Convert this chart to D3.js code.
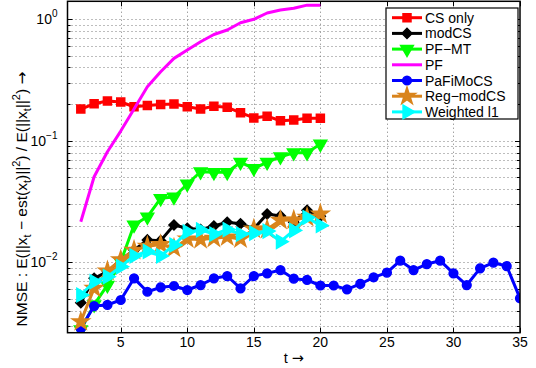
<!DOCTYPE html>
<html>
<head>
<meta charset="utf-8">
<script src="https://cdn.jsdelivr.net/npm/d3@7"></script>
<style>
  body { margin: 0; background: #fff; }
  text { font-family: "Liberation Sans", Arial, sans-serif; }
  .arrow { font-family: "DejaVu Sans", sans-serif; }
</style>
</head>
<body>
<div id="chart"></div>
<script>
// values (NMSE per time step)
const tShort = d3.range(2, 21);   // t = 2..20
const tLong = d3.range(2, 36);    // t = 2..35

const csOnly = [0.182, 0.201, 0.212, 0.208, 0.190, 0.195, 0.198, 0.200, 0.190, 0.182,
  0.192, 0.188, 0.170, 0.154, 0.159, 0.146, 0.148, 0.153, 0.153];
const modCS = [0.00467, 0.0074, 0.0084, 0.0105, 0.0126, 0.0153, 0.0151, 0.0203, 0.0191, 0.0186,
  0.0199, 0.0214, 0.0208, 0.0189, 0.0250, 0.0241, 0.0214, 0.0268, 0.0239];
const pfmt = [0.0028, 0.0045, 0.0065, 0.0101, 0.0203, 0.0237, 0.0336, 0.0345, 0.0441, 0.0556,
  0.0550, 0.0550, 0.0665, 0.0593, 0.0665, 0.0739, 0.0797, 0.0797, 0.0939];
const pf = [0.0216, 0.0506, 0.0812, 0.120, 0.182, 0.278, 0.369, 0.475, 0.556, 0.651,
  0.746, 0.812, 0.932, 0.994, 1.12, 1.186, 1.224, 1.30, 1.30];
const pafimocs = [0.00287, 0.00438, 0.00447, 0.00491, 0.0074, 0.00574, 0.00624, 0.0064, 0.00593,
  0.00652, 0.0074, 0.00773, 0.00613, 0.00773, 0.00813, 0.00866, 0.00735, 0.00717, 0.00646,
  0.00646, 0.00601, 0.00665, 0.00754, 0.00823, 0.01033, 0.00866, 0.0097, 0.01033, 0.00813,
  0.00652, 0.00894, 0.00994, 0.00934, 0.00507];
const regModCS = [0.00326, 0.00613, 0.0085, 0.0105, 0.0126, 0.0136, 0.0140, 0.0131, 0.0156, 0.0154,
  0.0158, 0.0162, 0.0156, 0.0188, 0.0187, 0.0222, 0.0223, 0.0235, 0.0250];
const weightedL1 = [0.0054, 0.00694, 0.00763, 0.00922, 0.0113, 0.0123, 0.0113, 0.0139, 0.0178, 0.0185,
  0.0171, 0.0186, 0.0171, 0.0174, 0.0181, 0.0148, 0.0183, 0.0234, 0.0201];

const names = ["CS only", "modCS", "PF\u2212MT", "PF", "PaFiMoCS", "Reg\u2212modCS", "Weighted l1"];
const colors = ["#ff0000", "#000000", "#00ff00", "#ff00ff", "#0000ff", "#d9841c", "#00ffff"];

const xTicks = [5, 10, 15, 20, 25, 30, 35];
const yTicks = [1e-2, 1e-1, 1];

const series = [
  {t: tShort, v: csOnly, marker: "square"},
  {t: tShort, v: modCS, marker: "diamond"},
  {t: tShort, v: pfmt, marker: "down"},
  {t: tShort, v: pf, marker: null},
  {t: tLong, v: pafimocs, marker: "circle"},
  {t: tShort, v: regModCS, marker: "star"},
  {t: tShort, v: weightedL1, marker: "right"}
];
series.forEach((s, i) => { s.name = names[i]; s.color = colors[i]; });

const width = 536, height = 368;
const margin = {left: 67.5, right: 16, top: 1.3, bottom: 35.3};

const svg = d3.select("#chart").append("svg")
  .attr("width", width)
  .attr("height", height);

const x = d3.scaleLinear().domain([1, 35]).range([margin.left, width - margin.right]);
const y = d3.scaleLog().domain([0.002645, 1.398]).range([height - margin.bottom, margin.top]);

const x0 = x.range()[0], x1 = x.range()[1];
const y0 = y.range()[0], y1 = y.range()[1];

// grid
const minorY = [];
[0.001, 0.01, 0.1, 1].forEach(d => {
  for (let k = 1; k < 10; k++) {
    const v = d * k;
    if (v >= y.domain()[0] && v <= y.domain()[1]) minorY.push(v);
  }
});

const grid = svg.append("g")
  .attr("stroke", "#7a7a7a")
  .attr("stroke-width", 1)
  .attr("stroke-dasharray", "1,3");

grid.selectAll(".gy").data(minorY).enter().append("line")
  .attr("x1", x0).attr("x2", x1)
  .attr("y1", d => Math.round(y(d)) + 0.5)
  .attr("y2", d => Math.round(y(d)) + 0.5);

grid.selectAll(".gx").data(xTicks.filter(d => d < 35)).enter().append("line")
  .attr("y1", y0).attr("y2", y1)
  .attr("x1", d => Math.round(x(d)) + 0.5)
  .attr("x2", d => Math.round(x(d)) + 0.5);

// ticks inside the box on all four sides
const ticks = svg.append("g").attr("stroke", "#000").attr("stroke-width", 1);
xTicks.forEach(d => {
  const px = Math.round(x(d)) + 0.5;
  ticks.append("line").attr("x1", px).attr("x2", px).attr("y1", y0).attr("y2", y0 - 5);
  ticks.append("line").attr("x1", px).attr("x2", px).attr("y1", y1).attr("y2", y1 + 5);
});
minorY.forEach(d => {
  const py = Math.round(y(d)) + 0.5;
  const len = yTicks.includes(d) ? 5 : 3;
  ticks.append("line").attr("x1", x0).attr("x2", x0 + len).attr("y1", py).attr("y2", py);
  ticks.append("line").attr("x1", x1).attr("x2", x1 - len).attr("y1", py).attr("y2", py);
});

// tick labels
svg.append("g").selectAll("text").data(xTicks).enter().append("text")
  .attr("x", d => x(d))
  .attr("y", y0 + 14)
  .attr("text-anchor", "middle")
  .attr("font-size", 14)
  .text(d => d);

const yl = svg.append("g").selectAll("text").data(yTicks).enter().append("text")
  .attr("x", x0 - 10)
  .attr("y", d => y(d) + 5)
  .attr("text-anchor", "end")
  .attr("font-size", 14);
yl.append("tspan").text("10");
yl.append("tspan").attr("dy", -7).attr("font-size", 10)
  .text(d => { const e = Math.round(Math.log10(d)); return e < 0 ? "\u2212" + (-e) : e; });

// axis titles
const xt = svg.append("text")
  .attr("x", (x0 + x1) / 2)
  .attr("y", height - 5)
  .attr("text-anchor", "middle")
  .attr("font-size", 14.5);
xt.append("tspan").text("t ");
xt.append("tspan").attr("class", "arrow").text("\u2192");

const yt = svg.append("text")
  .attr("transform", `translate(27,199) rotate(-90)`)
  .attr("text-anchor", "middle")
  .attr("font-size", 15.5);
const parts = [
  ["NMSE : E(||x", 0], ["t", 1], [" \u2212 est(x", 0], ["t", 1], [")||", 0], ["2", -1],
  [") / E(||x", 0], ["t", 1], ["||", 0], ["2", -1], [") ", 0], ["\u2192", 2]
];
let shift = 0;
parts.forEach(([s, k]) => {
  const target = k === 1 ? 4 : (k === -1 ? -7 : 0);
  const ts = yt.append("tspan").attr("dy", target - shift)
    .attr("font-size", (k === 0 || k === 2) ? 15.5 : 11).text(s);
  if (k === 2) ts.attr("class", "arrow");
  shift = target;
});

// data
svg.append("defs").append("clipPath").attr("id", "clip")
  .append("rect").attr("x", x0).attr("y", y1).attr("width", x1 - x0).attr("height", y0 - y1);

const symbols = {
  square: {type: d3.symbolSquare, size: 64, rot: 0},
  diamond: {type: d3.symbolSquare, size: 50, rot: 45},
  down: {type: d3.symbolTriangle, size: 70, rot: 180},
  right: {type: d3.symbolTriangle, size: 80, rot: 90},
  circle: {type: d3.symbolCircle, size: 60, rot: 0},
  star: {type: d3.symbolStar, size: 90, rot: 0}
};

const line = d3.line().x(d => x(d[0])).y(d => y(d[1]));
const plot = svg.append("g").attr("clip-path", "url(#clip)");

series.forEach(s => {
  const pts = s.t.map((t, i) => [t, s.v[i]]);
  const g = plot.append("g");
  g.append("path").datum(pts)
    .attr("fill", "none")
    .attr("stroke", s.color)
    .attr("stroke-width", 3)
    .attr("stroke-linejoin", "round")
    .attr("d", line);
  if (s.marker) {
    const m = symbols[s.marker];
    g.selectAll("path.m").data(pts).enter().append("path")
      .attr("class", "m")
      .attr("d", d3.symbol().type(m.type).size(m.size))
      .attr("transform", d => `translate(${x(d[0])},${y(d[1])}) rotate(${m.rot})`)
      .attr("fill", s.color)
      .attr("stroke", s.color)
      .attr("stroke-width", 1.5);
  }
});

// box
svg.append("rect")
  .attr("x", x0).attr("y", y1)
  .attr("width", x1 - x0).attr("height", y0 - y1)
  .attr("fill", "none").attr("stroke", "#000").attr("stroke-width", 1.5);

// legend
const lg = svg.append("g").attr("transform", "translate(386,8)");
lg.append("rect").attr("x", 0).attr("y", 0).attr("width", 132).attr("height", 111)
  .attr("fill", "#fff").attr("stroke", "#000").attr("stroke-width", 1.2);
series.forEach((s, i) => {
  const ry = 9.7 + i * 15.7;
  const row = lg.append("g").attr("transform", `translate(0,${ry})`);
  row.append("line").attr("x1", 6).attr("x2", 36).attr("y1", 0).attr("y2", 0)
    .attr("stroke", s.color).attr("stroke-width", 3);
  if (s.marker) {
    const m = symbols[s.marker];
    row.append("path")
      .attr("d", d3.symbol().type(m.type).size(m.size))
      .attr("transform", `translate(21,0) rotate(${m.rot})`)
      .attr("fill", s.color).attr("stroke", s.color).attr("stroke-width", 1.5);
  }
  row.append("text").attr("x", 39).attr("y", 5)
    .attr("font-size", 14).text(s.name);
});
</script>
</body>
</html>
